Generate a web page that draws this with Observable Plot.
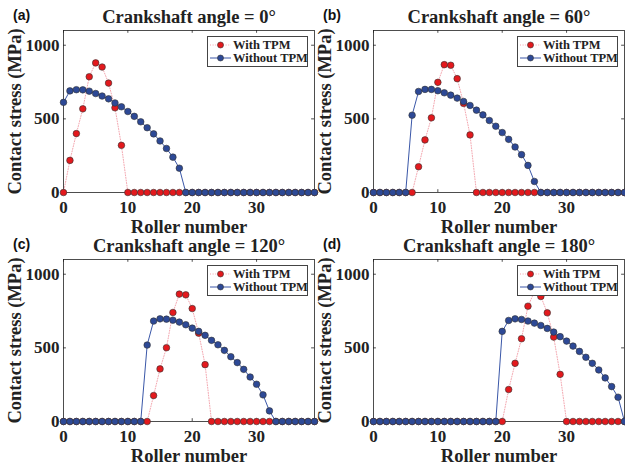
<!DOCTYPE html>
<html><head><meta charset="utf-8">
<script src="https://cdn.jsdelivr.net/npm/d3@7"></script>
<script src="https://cdn.jsdelivr.net/npm/@observablehq/plot@0.6"></script>
<style>
body{margin:0;background:#fff;}
#root{position:relative;width:625px;height:468px;overflow:hidden;}
.panel{position:absolute;width:315px;height:240px;}
.panel svg{position:absolute;left:0;top:0;}
.tag{position:absolute;left:13px;top:7px;font:bold 14px "Liberation Sans",Arial,sans-serif;color:#111;}
.legend{position:absolute;left:207px;top:36px;width:99px;height:29px;border:1px solid #444;background:#fff;font:bold 12.5px "Liberation Serif","Times New Roman",serif;color:#222;}
.legend .row{position:absolute;left:0;height:14px;line-height:14px;white-space:nowrap;}
.legend svg{position:absolute;left:0;top:0;}
.legend span{position:absolute;left:25px;top:0;}
</style>
</head><body><div id="root"></div>
<script>
// Roller index
const rollers = [0,1,2,3,4,5,6,7,8,9,10,11,12,13,14,15,16,17,18,19,20,21,22,23,24,25,26,27,28,29,30,31,32,33,34,35,36,37,38,39];
const panelTags = ["(a)","(b)","(c)","(d)"];
const panelTitles = ["Crankshaft angle = 0°","Crankshaft angle = 60°","Crankshaft angle = 120°","Crankshaft angle = 180°"];
const seriesNames = ["With TPM","Without TPM"];
const xTicks = [0,10,20,30];
const yTicks = [0,500,1000];

// Contact stress (MPa), angle 0°
const withTPM_0 = [0,218,400,568,786,880,852,743,575,320,0,0,0,0,0,0,0,0,0,0,0,0,0,0,0,0,0,0,0,0,0,0,0,0,0,0,0,0,0,0];
const withoutTPM_0 = [612,690,698,697,688,672,655,636,608,582,550,517,480,440,398,350,299,240,165,0,0,0,0,0,0,0,0,0,0,0,0,0,0,0,0,0,0,0,0,0];
// angle 60°
const withTPM_60 = [0,0,0,0,0,0,0,175,357,507,748,868,864,773,605,391,0,0,0,0,0,0,0,0,0,0,0,0,0,0,0,0,0,0,0,0,0,0,0,0];
const withoutTPM_60 = [0,0,0,0,0,0,525,686,700,700,691,677,661,641,618,591,559,527,489,450,407,361,309,257,184,75,0,0,0,0,0,0,0,0,0,0,0,0,0,0];
// angle 120°
const withTPM_120 = [0,0,0,0,0,0,0,0,0,0,0,0,0,0,176,357,501,740,865,860,767,600,386,0,0,0,0,0,0,0,0,0,0,0,0,0,0,0,0,0];
const withoutTPM_120 = [0,0,0,0,0,0,0,0,0,0,0,0,0,519,682,697,695,688,675,657,634,612,585,551,521,483,440,400,354,302,253,181,72,0,0,0,0,0,0,0];
// angle 180°
const withTPM_180 = [0,0,0,0,0,0,0,0,0,0,0,0,0,0,0,0,0,0,0,0,0,217,395,562,783,880,849,738,573,320,0,0,0,0,0,0,0,0,0,0];
const withoutTPM_180 = [0,0,0,0,0,0,0,0,0,0,0,0,0,0,0,0,0,0,0,0,612,686,697,693,682,668,652,632,607,576,546,512,476,436,395,350,296,237,165,0];

const withSets = [withTPM_0, withTPM_60, withTPM_120, withTPM_180];
const withoutSets = [withoutTPM_0, withoutTPM_60, withoutTPM_120, withoutTPM_180];
const positions = [[0,0],[310,0],[0,229],[310,229]];

const RED_LINE = "#f4a7b0", RED_FILL = "#e3191d", BLUE_LINE = "#3a57a8", BLUE_FILL = "#2d4996", EDGE = "#333";
const serif = '"Liberation Serif","Times New Roman",serif';
const root = document.getElementById("root");

function legendHTML() {
  const rows = [
    {name: seriesNames[0], line: RED_LINE, dash: "1,1.6", fill: RED_FILL, top: 1},
    {name: seriesNames[1], line: BLUE_LINE, dash: null, fill: BLUE_FILL, top: 14}
  ];
  return rows.map(r => `<div class="row" style="top:${r.top}px;width:99px">
    <svg width="25" height="14"><line x1="2" x2="23" y1="7" y2="7" stroke="${r.line}" stroke-width="1" ${r.dash ? `stroke-dasharray="${r.dash}"` : ""}/>
    <circle cx="12.5" cy="7" r="3" fill="${r.fill}" stroke="${EDGE}" stroke-width="0.6"/></svg>
    <span>${r.name}</span></div>`).join("");
}

const labelText = {fontSize: 18.5, fontWeight: "bold", fill: "#222", textAnchor: "middle", lineAnchor: "middle"};

for (let p = 0; p < 4; p++) {
  const table = rollers.map((r, i) => ({roller: r, withTPM: withSets[p][i], withoutTPM: withoutSets[p][i]}));
  const chart = Plot.plot({
    width: 315, height: 240,
    marginLeft: 63, marginRight: 1, marginTop: 30, marginBottom: 48,
    style: {fontFamily: serif, fontWeight: "bold", fontSize: "17px", background: "transparent", overflow: "visible", color: "#222"},
    x: {domain: [0, 39], ticks: xTicks},
    y: {domain: [0, 1100], ticks: yTicks},
    marks: [
      Plot.frame({stroke: "#222", strokeWidth: 0.8}),
      Plot.ruleX(xTicks, {x: d => d, y1: 0, y2: 19, stroke: "#222", strokeWidth: 0.8}),
      Plot.ruleX(xTicks, {x: d => d, y1: 1100, y2: 1081, stroke: "#222", strokeWidth: 0.8}),
      Plot.ruleY(yTicks, {y: d => d, x1: 0, x2: 0.45, stroke: "#222", strokeWidth: 0.8}),
      Plot.ruleY(yTicks, {y: d => d, x1: 39, x2: 38.55, stroke: "#222", strokeWidth: 0.8}),
      Plot.axisX({ticks: xTicks, tickSize: 0, tickPadding: 8, tickFormat: d3.format("d"), label: null, fontSize: 17, fontWeight: "bold"}),
      Plot.axisY({ticks: yTicks, tickSize: 0, tickPadding: 4, tickFormat: d3.format("d"), label: null, fontSize: 17, fontWeight: "bold"}),
      Plot.line(table, {x: "roller", y: "withTPM", stroke: RED_LINE, strokeWidth: 1, strokeDasharray: "1,1.6"}),
      Plot.dot(table, {x: "roller", y: "withTPM", r: 3.3, fill: RED_FILL, stroke: EDGE, strokeWidth: 0.6}),
      Plot.line(table, {x: "roller", y: "withoutTPM", stroke: BLUE_LINE, strokeWidth: 1}),
      Plot.dot(table, {x: "roller", y: "withoutTPM", r: 3.3, fill: BLUE_FILL, stroke: EDGE, strokeWidth: 0.6}),
      Plot.text([panelTitles[p]], {...labelText, frameAnchor: "top", dy: -13.5}),
      Plot.text(["Roller number"], {...labelText, frameAnchor: "bottom", dy: 35}),
      Plot.text(["Contact stress (MPa)"], {...labelText, frameAnchor: "left", dx: -48, rotate: -90})
    ]
  });
  const div = document.createElement("div");
  div.className = "panel";
  div.style.left = positions[p][0] + "px";
  div.style.top = positions[p][1] + "px";
  div.appendChild(chart);
  const tag = document.createElement("div");
  tag.className = "tag";
  tag.textContent = panelTags[p];
  div.appendChild(tag);
  const leg = document.createElement("div");
  leg.className = "legend";
  leg.innerHTML = legendHTML();
  div.appendChild(leg);
  root.appendChild(div);
}
</script>
</body></html>
